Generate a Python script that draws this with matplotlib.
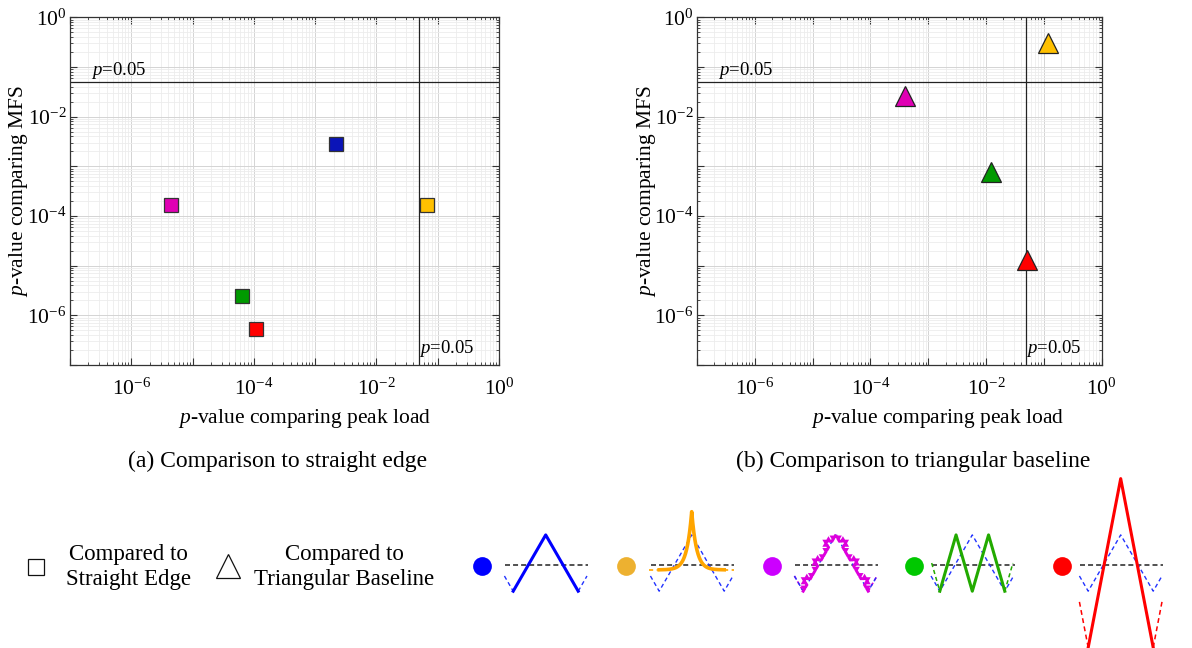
import numpy as np
import matplotlib
matplotlib.use("Agg")
import matplotlib.pyplot as plt
from matplotlib.ticker import FixedLocator, FuncFormatter, LogLocator, NullFormatter

plt.rcParams["font.family"] = ["Liberation Serif", "DejaVu Serif"]
plt.rcParams["mathtext.fontset"] = "custom"
plt.rcParams["mathtext.rm"] = "Liberation Serif"
plt.rcParams["mathtext.it"] = "Liberation Serif:italic"
plt.rcParams["lines.scale_dashes"] = False

# ---------------- data ----------------
alpha = 0.05

# (a) each edge geometry compared to a straight edge
straight_colors = ["#0a14b8", "#ffc000", "#e000b4", "#009a00", "#ff0000"]
straight_peak_p = [2.2e-3, 6.6e-2, 4.4e-6, 6.3e-5, 1.1e-4]
straight_mfs_p = [2.75e-3, 1.67e-4, 1.67e-4, 2.4e-6, 5.4e-7]

# (b) each edge geometry compared to the triangular baseline
tri_colors = ["#ffc000", "#e000b4", "#009a00", "#ff0000"]
tri_peak_p = [0.12, 3.9e-4, 0.012, 0.051]
tri_mfs_p = [0.305, 0.0263, 7.7e-4, 1.33e-5]

captions = ["(a) Comparison to straight edge", "(b) Comparison to triangular baseline"]
xlabel = "$p$-value comparing peak load"
ylabel = "$p$-value comparing MFS"
decades = list(range(-7, 1))

# geometry key: dot colour, profile colour
key_dot_colors = ["#0000ff", "#edb130", "#cc00ff", "#00c800", "#ff0000"]
key_line_colors = ["#0000ff", "#ffa500", "#dd00dd", "#22aa00", "#ff0000"]

# profile shape parameters (units of half the baseline tooth width)
tooth_height = np.sqrt(3.0)        # baseline triangular tooth, peak to trough
cusp_peak, cusp_floor, cusp_width = 1.79, -0.15, 0.15
tall_factor = 3.0
# ---------------------------------------

fig = plt.figure(figsize=(11.92, 6.48), dpi=100)
W, H = 1192.0, 648.0


def px_axes(x0, y0, x1, y1):
    return fig.add_axes([x0 / W, 1 - y1 / H, (x1 - x0) / W, (y1 - y0) / H])


def style(ax):
    ax.set_xscale("log")
    ax.set_yscale("log")
    ax.set_xlim(10.0 ** decades[0], 10.0 ** decades[-1])
    ax.set_ylim(10.0 ** decades[0], 10.0 ** decades[-1])
    major = [10.0 ** e for e in decades]
    fmt = FuncFormatter(
        lambda v, pos: (f"$10^{{{int(round(np.log10(v)))}}}$"
                        if int(round(np.log10(v))) % 2 == 0 else ""))
    for axis in (ax.xaxis, ax.yaxis):
        axis.set_major_locator(FixedLocator(major))
        axis.set_minor_locator(LogLocator(base=10, subs=np.arange(2, 10), numticks=30))
        axis.set_major_formatter(fmt)
        axis.set_minor_formatter(NullFormatter())
    ax.tick_params(which="both", direction="in", top=True, right=True, color="#333333")
    ax.tick_params(which="major", length=5, width=0.8, labelsize=15.5)
    ax.tick_params(axis="x", which="major", pad=10)
    ax.tick_params(axis="y", which="major", pad=2.5)
    ax.tick_params(which="minor", length=2.5, width=0.6)
    ax.grid(which="major", color="#d4d4d4", lw=0.7)
    ax.grid(which="minor", color="#ececec", lw=0.6)
    ax.set_axisbelow(True)
    for s in ax.spines.values():
        s.set_color("#333333")
        s.set_linewidth(0.9)
    ax.axhline(alpha, color="#222222", lw=0.9, zorder=2)
    ax.axvline(alpha, color="#222222", lw=0.9, zorder=2)
    ax.annotate("$p$=0.05", xy=(10.0 ** decades[0], alpha), xytext=(15, 1),
                textcoords="offset points", ha="left", va="bottom", fontsize=13.5)
    ax.annotate("$p$=0.05", xy=(alpha, 10.0 ** decades[0]), xytext=(0, 4),
                textcoords="offset points", ha="left", va="bottom", fontsize=13.5)


ax_a = px_axes(70, 17.3, 499, 365)
ax_b = px_axes(697, 17.3, 1101.7, 365)
for ax in (ax_a, ax_b):
    style(ax)

for x, y, c in zip(straight_peak_p, straight_mfs_p, straight_colors):
    ax_a.plot([x], [y], marker="s", ms=10.5, mfc=c, mec="#333333", mew=0.9,
              ls="none", zorder=4)
for x, y, c in zip(tri_peak_p, tri_mfs_p, tri_colors):
    ax_b.plot([x], [y], marker="^", ms=14.5, mfc=c, mec="#222222", mew=0.9,
              ls="none", zorder=4)

# axis titles and captions
for cx_lab, cx_cap, cy_lab, cap in ((305, 278, 19, captions[0]), (938, 913, 646, captions[1])):
    fig.text(cx_lab / W, 1 - 419 / H, xlabel, ha="center", va="center", fontsize=15.5)
    fig.text(cx_cap / W, 1 - 461 / H, cap, ha="center", va="center", fontsize=17)
    fig.text(cy_lab / W, 1 - 191 / H, ylabel, ha="center", va="center",
             rotation=90, fontsize=15.5)

# ---------------- key along the bottom ----------------
key = fig.add_axes([0, 0, 1, 1], zorder=-1)
key.set_xlim(0, W)
key.set_ylim(H, 0)
key.axis("off")
key.patch.set_alpha(0)

key.plot([36], [567], marker="s", ms=11, mfc="white", mec="#111111", mew=0.9, ls="none")
key.text(128, 567, "Compared to\nStraight Edge", ha="center", va="center",
         fontsize=16.5, linespacing=1.3)
key.plot([228], [566], marker="^", ms=17, mfc="white", mec="#111111", mew=0.9, ls="none")
key.text(344, 567, "Compared to\nTriangular Baseline", ha="center", va="center",
         fontsize=16.5, linespacing=1.3)

U = 32.5          # pixels per profile unit
BASE_Y = 565.0
glyph_cx = [545.7, 691.7, 835.7, 972.3, 1120.7]
dot_cx = [481.7, 625.7, 771.7, 914.0, 1061.7]
LIFT = 0.06


def tri_wave(x, period, height, phase=0.0):
    u = ((x - phase) / period + 0.5) % 1.0 - 0.5
    return height * (0.5 - 2.0 * np.abs(u)) + LIFT


def koch(p0, p1, level):
    rot = np.array([[0.5, -np.sqrt(3) / 2], [np.sqrt(3) / 2, 0.5]])
    pts = [np.asarray(p0, float), np.asarray(p1, float)]
    for _ in range(level):
        new = [pts[0]]
        for a, b in zip(pts[:-1], pts[1:]):
            d = (b - a) / 3.0
            q1 = a + d
            q3 = a + 2 * d
            q2 = q1 + rot @ d
            new += [q1, q2, q3, b]
        pts = new
    return np.array(pts)


def draw(cx, x, y, **kw):
    key.plot(cx + U * np.asarray(x), BASE_Y - U * np.asarray(y), **kw)


blue_dash = dict(color="#2233ff", lw=1.0, dashes=(3, 2.2))
xs_in = np.linspace(-1, 1, 801)
xs_l = np.linspace(-1.27, -1, 30)
xs_r = np.linspace(1, 1.27, 30)
xs_full = np.linspace(-1.27, 1.27, 1001)

for i, cx in enumerate(glyph_cx):
    key.plot([dot_cx[i]], [BASE_Y + 1], marker="o", ms=13.5, color=key_dot_colors[i],
             mec="none", ls="none")
    draw(cx, [-1.25, 1.3], [0, 0], color="#222222", lw=1.1, dashes=(3.6, 2.2), zorder=2)
    lc = key_line_colors[i]
    if i == 0:
        draw(cx, xs_in, tri_wave(xs_in, 2, tooth_height), color=lc, lw=2.2, zorder=3)
        for xs in (xs_l, xs_r):
            draw(cx, xs, tri_wave(xs, 2, tooth_height), **blue_dash)
        continue
    draw(cx, xs_full, tri_wave(xs_full, 2, tooth_height), zorder=2.5, **blue_dash)
    if i == 1:
        ys = cusp_peak * np.exp(-np.abs(xs_in) / cusp_width) + cusp_floor
        draw(cx, xs_in, ys, color=lc, lw=2.6, zorder=3)
        for a, b in ((-1.3, -1.0), (1.0, 1.3)):
            draw(cx, [a, b], [cusp_floor, cusp_floor], color=lc, lw=1.2, dashes=(3, 2.5))
    elif i == 2:
        bot = tri_wave(np.array([1.0]), 2, tooth_height)[0]
        top = tri_wave(np.array([0.0]), 2, tooth_height)[0]
        corners = [(-1, bot), (0, top), (1, bot)]
        pieces = []
        for (xa, ya), (xb, yb) in zip(corners[:-1], corners[1:]):
            for k in range(3):
                p0 = (xa + (xb - xa) * k / 3, ya + (yb - ya) * k / 3)
                p1 = (xa + (xb - xa) * (k + 1) / 3, ya + (yb - ya) * (k + 1) / 3)
                pieces.append(koch(p0, p1, 2))
        curve = np.vstack(pieces)
        draw(cx, curve[:, 0], curve[:, 1], color=lc, lw=2.1, zorder=3,
             solid_joinstyle="miter")
        for xs in (xs_l, xs_r):
            draw(cx, xs, tri_wave(xs, 2, tooth_height), color=lc, lw=1.2, dashes=(2.5, 2))
    elif i == 3:
        draw(cx, xs_in, tri_wave(xs_in, 1, tooth_height, 0.5), color=lc, lw=2.2, zorder=3)
        for xs in (np.linspace(-1.25, -1, 20), np.linspace(1, 1.25, 20)):
            draw(cx, xs, tri_wave(xs, 1, tooth_height, 0.5), color=lc, lw=1.1, dashes=(3, 2.2))
    else:
        draw(cx, xs_in, tri_wave(xs_in, 2, tall_factor * tooth_height), color=lc, lw=2.2, zorder=3)
        for xs in (xs_l, xs_r):
            draw(cx, xs, tri_wave(xs, 2, tall_factor * tooth_height), color=lc, lw=1.1,
                 dashes=(3.5, 2.5))

fig.savefig("out.png", dpi=100)
